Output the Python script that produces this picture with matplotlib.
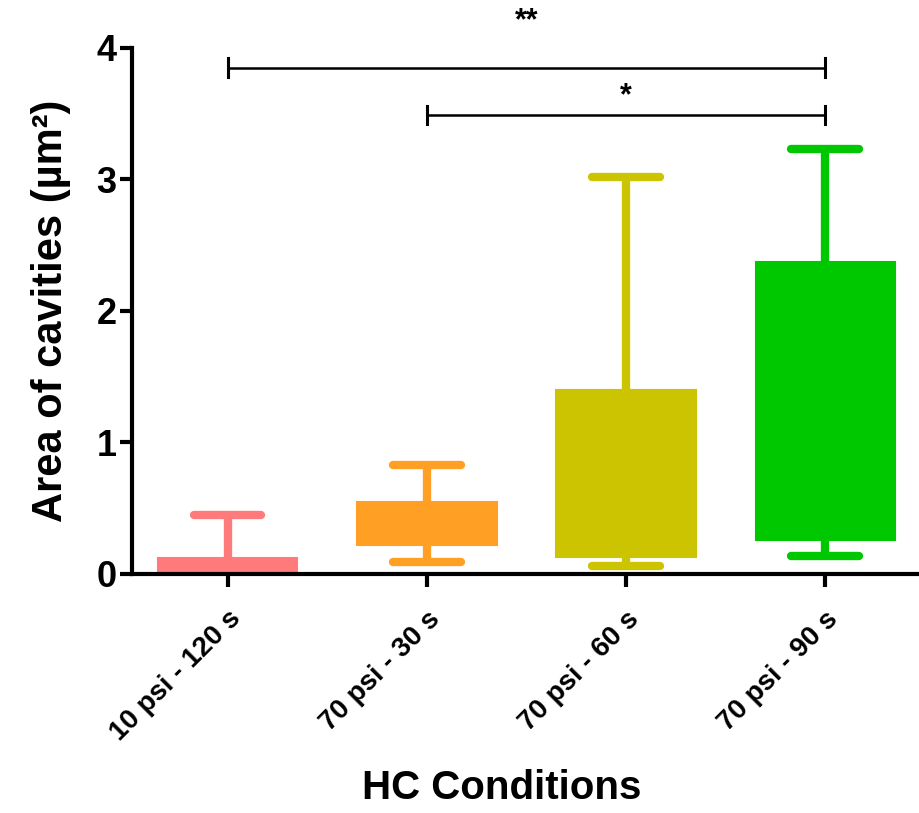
import matplotlib as mpl
mpl.use('Agg')
import matplotlib.pyplot as plt

# data (area of cavities, um^2)
conditions = ['10 psi - 120 s', '70 psi - 30 s', '70 psi - 60 s', '70 psi - 90 s']
whisker_low = [0.00, 0.09, 0.06, 0.14]
q1 = [0.01, 0.22, 0.13, 0.26]
medians = [0.05, 0.38, 0.60, 1.30]
q3 = [0.12, 0.55, 1.40, 2.37]
whisker_high = [0.45, 0.83, 3.02, 3.23]
colors = ['#FF7B7B', '#FFA024', '#CCC400', '#00C800']

# significance brackets: (from, to, label)
sig_pairs = [(0, 3, '**'), (1, 3, '*')]
sig_heights = [3.85, 3.49]

plt.rcParams['font.family'] = ['Liberation Sans', 'DejaVu Sans']
plt.rcParams['font.weight'] = 'bold'

fig = plt.figure(figsize=(9.19, 8.13), dpi=100)
ax = fig.add_axes([0.1436, 0.294, 0.8564, 0.647])

stats = []
for i in range(len(conditions)):
    stats.append(dict(whislo=whisker_low[i], q1=q1[i], med=medians[i],
                      q3=q3[i], whishi=whisker_high[i], fliers=[]))

bp = ax.bxp(stats, positions=range(len(conditions)), widths=0.70,
            patch_artist=True, showfliers=False)
for i, c in enumerate(colors):
    bp['boxes'][i].set(facecolor=c, edgecolor=c, linewidth=1.5)
    bp['medians'][i].set(color=c, linewidth=1)
    for w in bp['whiskers'][2 * i:2 * i + 2]:
        w.set(color=c, linewidth=6, solid_capstyle='butt')
    for cap in bp['caps'][2 * i:2 * i + 2]:
        cap.set(color=c, linewidth=6, solid_capstyle='round')
        xd = cap.get_xdata()
        mid = (xd[0] + xd[1]) / 2
        cap.set_xdata([mid - 0.17, mid + 0.17])

ax.set_xlim(-0.48, 3.47)
ax.set_ylim(0, 4)
ax.set_yticks([0, 1, 2, 3, 4])
ax.set_xticks(range(len(conditions)))
ax.set_xticklabels(conditions, rotation=45, ha='right', rotation_mode='anchor',
                   fontsize=20, fontweight='bold')
ax.tick_params(axis='y', labelsize=26, width=3, length=9, pad=2)
ax.tick_params(axis='x', width=3, length=9, pad=14)
for lbl in ax.get_yticklabels():
    lbl.set_fontweight('bold')

for side in ['top', 'right']:
    ax.spines[side].set_visible(False)
for side in ['left', 'bottom']:
    ax.spines[side].set_linewidth(3)

ax.set_ylabel('Area of cavities (µm²)', fontsize=30, fontweight='bold')
ax.yaxis.set_label_coords(-0.078, 0.5)
ax.set_xlabel('HC Conditions', fontsize=29, fontweight='bold')
ax.xaxis.set_label_coords(0.47, -0.37)

# significance brackets
for (a, b, label), h in zip(sig_pairs, sig_heights):
    ax.plot([a, b], [h, h], color='black', linewidth=1.8, clip_on=False)
    for xe in (a, b):
        ax.plot([xe, xe], [h - 0.07, h + 0.07], color='black', linewidth=2.2, clip_on=False)
    y_txt = h + 0.24 if label == '**' else h + 0.03
    ax.text((a + b) / 2, y_txt, label, ha='center', va='bottom',
            fontsize=22, fontweight='bold', clip_on=False)

fig.savefig('out.png', dpi=100)
